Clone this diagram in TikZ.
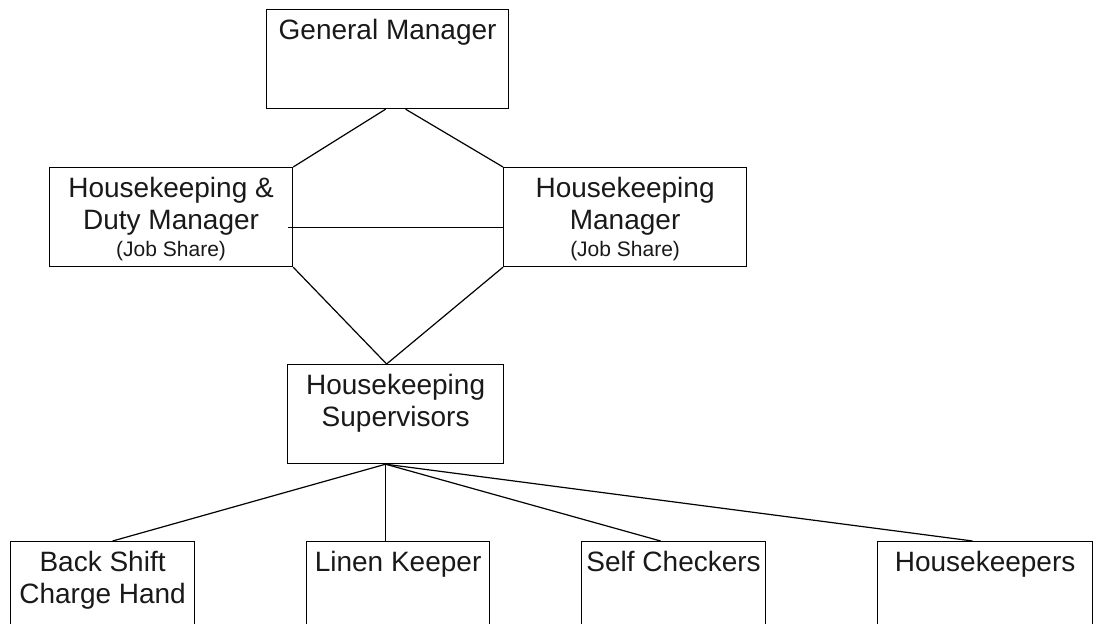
\documentclass[tikz,border=0pt]{standalone}
\usepackage{fontspec}
\setmainfont{Liberation Sans}
\usepackage{tikz}
\usetikzlibrary{calc}

\tikzset{post/.style={draw, line width=0.6pt, anchor=north west, inner sep=0pt},
  posttext/.style={anchor=north, align=center, inner sep=0pt, yshift=-5pt,
    font=\fontsize{14}{16}\selectfont, text=black!90},
  link/.style={line width=0.6pt}}
\newcommand{\jobshare}{\\[-2.5pt]{\fontsize{10.5}{12}\selectfont (Job Share)}}

\begin{document}
\begin{tikzpicture}[x=0.5pt, y=-0.5pt]
\useasboundingbox (0,0) rectangle (1095,624);
% managers
\node[post, minimum width=121pt, minimum height=49.5pt] (gm) at (266,9) {};
\node[posttext] (gm-t) at (gm.north) {General Manager};
\node[post, minimum width=121.5pt, minimum height=49.5pt] (hdm) at (49,167) {};
\node[posttext] (hdm-t) at (hdm.north) {Housekeeping \&\\Duty Manager\jobshare};
\node[post, minimum width=121.5pt, minimum height=49.5pt] (hm) at (503,167) {};
\node[posttext] (hm-t) at (hm.north) {Housekeeping\\Manager\jobshare};
\node[post, minimum width=108pt, minimum height=49.5pt] (sup) at (287,364) {};
\node[posttext] (sup-t) at (sup.north) {Housekeeping\\Supervisors};
% staff
\node[post, minimum width=92pt, minimum height=49.5pt] (bsh) at (10,541) {};
\node[posttext] (bsh-t) at (bsh.north) {Back Shift\\Charge Hand};
\node[post, minimum width=91.5pt, minimum height=49.5pt] (linen) at (306,541) {};
\node[posttext] (linen-t) at (linen.north) {Linen Keeper};
\node[post, minimum width=92pt, minimum height=49.5pt] (self) at (581,541) {};
\node[posttext] (self-t) at (self.north) {Self Checkers};
\node[post, minimum width=107.5pt, minimum height=49.5pt] (hk) at (877,541) {};
\node[posttext] (hk-t) at (hk.north) {Housekeepers};

\coordinate (join) at ([xshift=-4.5pt]sup.north);
\coordinate (fork) at ([xshift=-5pt]sup.south);

\draw[link] ([xshift=-1pt]gm.south) -- (hdm.north east);
\draw[link] ([xshift=9pt]gm.south) -- (hm.north west);
\draw[link] ([yshift=-5.25pt]hm.west) -- ([xshift=-2.5pt, yshift=-5.25pt]hdm.east);
\draw[link] (hdm.south east) -- (join);
\draw[link] (hm.south west) -- (join);
\draw[link] (fork) -- ([xshift=5pt]bsh.north);
\draw[link] (fork) -- (fork |- linen.north);
\draw[link] (fork) -- ([xshift=-6.5pt]self.north);
\draw[link] (fork) -- ([xshift=-6.25pt]hk.north);
\end{tikzpicture}
\end{document}
